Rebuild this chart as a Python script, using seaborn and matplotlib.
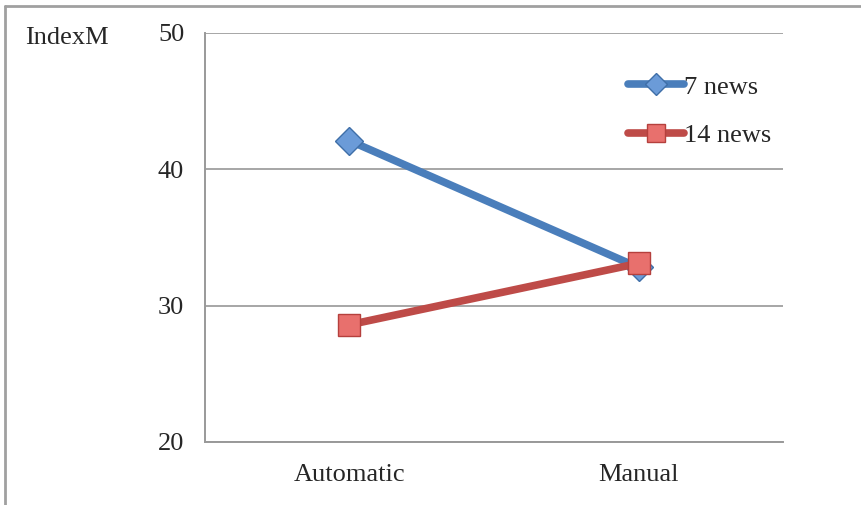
import pandas as pd
import seaborn as sns
import matplotlib.pyplot as plt
from matplotlib.lines import Line2D

# dados
categorias = ["Automatic", "Manual"]
valores_7 = [42.1, 32.8]
valores_14 = [28.6, 33.1]
series = ["7 news", "14 news"]
yticks = [20, 30, 40, 50]

sns.set_style("white")
plt.rcParams["font.family"] = ["Liberation Serif", "DejaVu Serif"]

df7 = pd.DataFrame({"Metodo": categorias, "IndexM": valores_7})
df14 = pd.DataFrame({"Metodo": categorias, "IndexM": valores_14})

fig = plt.figure(figsize=(8.62, 5.05), dpi=100)
ax = fig.add_axes([0.2378, 0.1248, 0.9084 - 0.2378, 0.9347 - 0.1248])

sns.lineplot(data=df7, x="Metodo", y="IndexM", ax=ax, color="#4A7EBB", lw=5.5,
             marker="D", markersize=14, markerfacecolor="#6B9BD8",
             markeredgecolor="#3F6FA8", markeredgewidth=1, sort=False, zorder=3)
sns.lineplot(data=df14, x="Metodo", y="IndexM", ax=ax, color="#BE4B48", lw=5.5,
             marker="s", markersize=16, markerfacecolor="#E8706D",
             markeredgecolor="#B5403D", markeredgewidth=1, sort=False, zorder=4)

ax.set_xlim(-0.5, 1.5)
ax.set_ylim(20, 50)
ax.set_yticks(yticks)
ax.set_xticks([0, 1])
ax.set_xticklabels(categorias)
ax.set_xticks([-0.5, 0.5, 1.5], minor=True)
ax.tick_params(axis="x", which="major", length=0, pad=16, labelsize=19)
ax.tick_params(axis="x", which="minor", length=7, width=1.2, color="#999999", direction="out")
ax.tick_params(axis="y", length=7, width=1.2, color="#999999", direction="out", pad=8, labelsize=19)
ax.set_xlabel("")
ax.set_ylabel("")

ax.grid(axis="y", color="#A6A6A6", lw=1.4)
ax.set_axisbelow(True)
for lado in ["top", "right"]:
    ax.spines[lado].set_visible(False)
for lado in ["left", "bottom"]:
    ax.spines[lado].set_color("#999999")
    ax.spines[lado].set_linewidth(1.4)

handles = [
    Line2D([], [], color="#4A7EBB", lw=5.5, marker="D", markersize=11,
           markerfacecolor="#6B9BD8", markeredgecolor="#3F6FA8"),
    Line2D([], [], color="#BE4B48", lw=5.5, marker="s", markersize=13,
           markerfacecolor="#E8706D", markeredgecolor="#B5403D"),
]
ax.legend(handles, series, loc="upper left", bbox_to_anchor=(0.69, 0.955), frameon=False,
          fontsize=19, handlelength=2.15, handletextpad=0.0, labelspacing=0.95)

fig.text(25 / 862, 1 - 38 / 505, "IndexM", fontsize=19, va="center", ha="left")

# moldura cinza (topo e esquerda)
fig.add_artist(Line2D([5 / 862, 1], [1 - 6 / 505, 1 - 6 / 505], color="#A0A0A0", lw=2))
fig.add_artist(Line2D([5 / 862, 5 / 862], [0, 1 - 6 / 505], color="#A0A0A0", lw=2))

fig.savefig("out.png", dpi=100)
